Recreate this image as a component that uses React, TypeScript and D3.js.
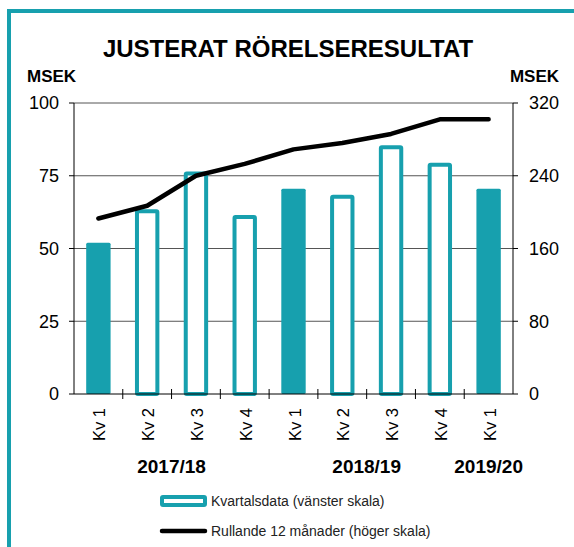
import React from "react";
import * as d3 from "d3";

const categories = ["Kv 1", "Kv 2", "Kv 3", "Kv 4", "Kv 1", "Kv 2", "Kv 3", "Kv 4", "Kv 1"];
const quarterly = [52, 63.5, 76.5, 61.5, 70.5, 68.5, 85.5, 79.5, 70.5];
const filled = [true, false, false, false, true, false, false, false, true];
const rolling12 = [193, 207, 240, 253, 269, 276, 286, 302, 302];
const leftTicks = [0, 25, 50, 75, 100];
const rightTicks = [0, 80, 160, 240, 320];
const years = [
  { label: "2017/18", from: 0, to: 3 },
  { label: "2018/19", from: 4, to: 7 },
  { label: "2019/20", from: 8, to: 8 },
];
const title = "JUSTERAT RÖRELSERESULTAT";
const unit = "MSEK";
const legendBars = "Kvartalsdata (vänster skala)";
const legendLine = "Rullande 12 månader (höger skala)";

const W = 574;
const H = 547;
const TEAL = "#17a0ae";
const FONT = "'Liberation Sans', Arial, sans-serif";

export default function App() {
  const left = 74;
  const right = 513;
  const top = 103;
  const bottom = 394;

  const x = d3
    .scaleBand<number>()
    .domain(categories.map((_, i) => i))
    .range([left, right])
    .paddingInner(0.5)
    .paddingOuter(0.25);
  const band = (right - left) / categories.length;
  const cx = (i: number) => (x(i) as number) + x.bandwidth() / 2;
  const yL = d3.scaleLinear().domain([0, 100]).range([bottom, top]);
  const yR = d3.scaleLinear().domain([0, 320]).range([bottom, top]);

  const line = d3
    .line<number>()
    .x((_, i) => cx(i))
    .y((d) => yR(d));

  const sw = 4;

  return (
    <svg
      width={W}
      height={H}
      style={{ position: "absolute", left: 0, top: 0, background: "#fff" }}
      fontFamily={FONT}
    >
      <rect x={0} y={0} width={W} height={H} fill="#fff" />
      <rect x={9} y={11} width={700} height={700} fill="#fff" stroke={TEAL} strokeWidth={4} />

      <text x={288} y={57} textAnchor="middle" fontSize={24} fontWeight="bold" fill="#000">
        {title}
      </text>
      <text x={27} y={82} fontSize={17} fontWeight="bold" fill="#000">
        {unit}
      </text>
      <text x={559} y={82} textAnchor="end" fontSize={17} fontWeight="bold" fill="#000">
        {unit}
      </text>

      {/* gridlines */}
      {leftTicks
        .filter((t) => t > 0)
        .map((t) => (
          <line key={"g" + t} x1={left} x2={right} y1={yL(t)} y2={yL(t)} stroke="#555" strokeWidth={1} />
        ))}

      {/* bars */}
      {quarterly.map((v, i) => {
        const bx = x(i) as number;
        const bw = x.bandwidth();
        if (filled[i]) {
          return (
            <rect key={"b" + i} x={bx} y={yL(v)} width={bw} height={bottom - yL(v)} fill={TEAL} rx={1.5} />
          );
        }
        return (
          <rect
            key={"b" + i}
            x={bx + sw / 2}
            y={yL(v) + sw / 2}
            width={bw - sw}
            height={bottom - yL(v) - sw / 2}
            fill="#fff"
            stroke={TEAL}
            strokeWidth={sw}
            rx={1}
          />
        );
      })}

      {/* axes */}
      <line x1={left} x2={left} y1={top} y2={bottom} stroke="#000" strokeWidth={1} />
      <line x1={right} x2={right} y1={top} y2={bottom} stroke="#000" strokeWidth={1} />
      <line x1={left} x2={right} y1={bottom} y2={bottom} stroke="#000" strokeWidth={1} />
      {leftTicks.map((t) => (
        <g key={"lt" + t}>
          <line x1={left - 5} x2={left} y1={yL(t)} y2={yL(t)} stroke="#000" strokeWidth={1} />
          <text x={59} y={yL(t)} dy="0.35em" textAnchor="end" fontSize={18} fill="#000">
            {t}
          </text>
        </g>
      ))}
      {rightTicks.map((t) => (
        <g key={"rt" + t}>
          <line x1={right} x2={right + 5} y1={yR(t)} y2={yR(t)} stroke="#000" strokeWidth={1} />
          <text x={529} y={yR(t)} dy="0.35em" textAnchor="start" fontSize={18} fill="#000">
            {t}
          </text>
        </g>
      ))}
      {categories.slice(1).map((_, i) => {
        const tx = left + band * (i + 1);
        return <line key={"xt" + i} x1={tx} x2={tx} y1={bottom - 5} y2={bottom + 5} stroke="#000" strokeWidth={1} />;
      })}

      {/* rolling line */}
      <path d={line(rolling12) || ""} fill="none" stroke="#000" strokeWidth={4.5} strokeLinejoin="round" strokeLinecap="round" />

      {/* category labels */}
      {categories.map((c, i) => (
        <text
          key={"c" + i}
          transform={`translate(${cx(i) + 1},${408}) rotate(-90)`}
          textAnchor="end"
          dominantBaseline="central"
          fontSize={16.5}
          fill="#000"
        >
          {c}
        </text>
      ))}

      {/* year labels */}
      {years.map((yv) => (
        <text
          key={yv.label}
          x={(cx(yv.from) + cx(yv.to)) / 2}
          y={473}
          textAnchor="middle"
          fontSize={19}
          fontWeight="bold"
          fill="#000"
        >
          {yv.label}
        </text>
      ))}

      {/* legend */}
      <rect x={162} y={497} width={43} height={8} fill="#fff" stroke={TEAL} strokeWidth={4} rx={1} />
      <text x={211} y={506} fontSize={14} fill="#222">
        {legendBars}
      </text>
      <line x1={162} x2={205} y1={531} y2={531} stroke="#000" strokeWidth={4.5} strokeLinecap="round" />
      <text x={211} y={536} fontSize={14} fill="#222">
        {legendLine}
      </text>
    </svg>
  );
}
